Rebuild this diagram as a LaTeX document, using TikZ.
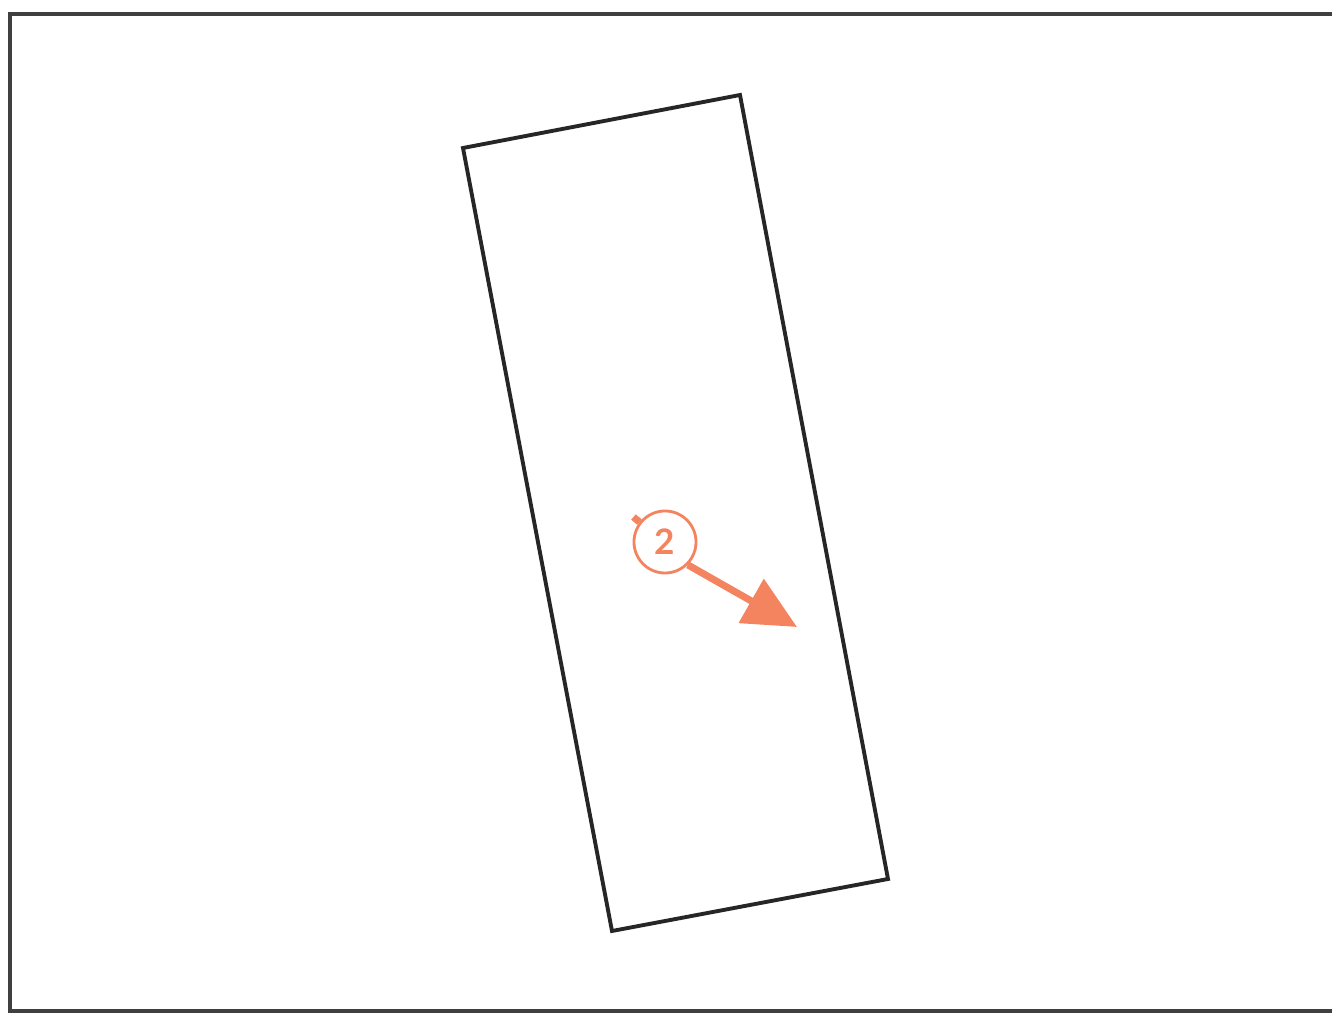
\documentclass[tikz,border=0pt]{standalone}
\usepackage{fontspec}
\setsansfont{Lato}
\usetikzlibrary{arrows.meta}
\definecolor{losos}{HTML}{F4845F}
\tikzset{
    znacka/.style={circle,draw=losos,line width=0.8pt,fill=white,text=losos,
        minimum size=0.62cm,inner sep=0pt,font=\sffamily\bfseries},
    sipka/.style={losos,line width=2pt,-{Triangle[length=15pt,width=14pt]}}
}
\begin{document}
\begin{tikzpicture}[x=0.01cm,y=-0.01cm]
    \useasboundingbox (0,0) rectangle (1332,1013);
    % rám
    \draw[line width=0.9pt,black!75] (10,1013)--(10,14)--(1332,14);
    \draw[line width=0.9pt,black!75] (10,1011)--(1332,1011);

    % deska
    \draw[line width=1.1pt,black!85] (463,148)--(740,95)--(888,879)--(612,931)--cycle;

    % značka se šipkou
    \node[znacka] (cislo) at (665,542) {2};
    \draw[losos,line width=2pt] (cislo.142)--++(-6,-5);
    \coordinate (hrot) at (797,627);
    \draw[sipka] (cislo.south east)--(hrot);
\end{tikzpicture}
\end{document}
